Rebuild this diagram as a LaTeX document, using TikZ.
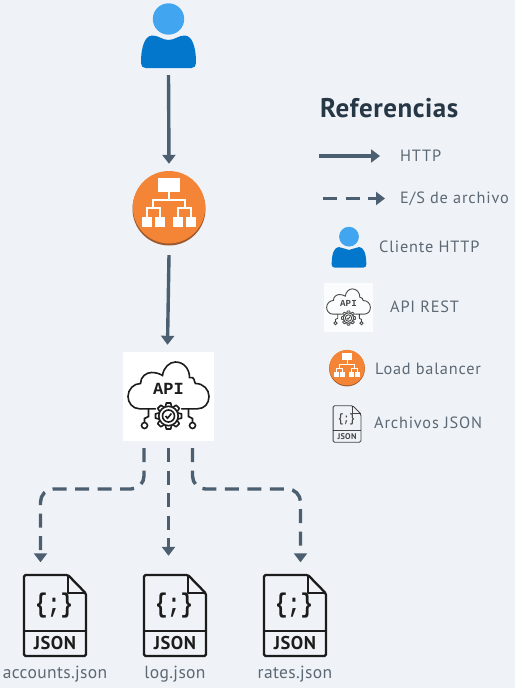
\documentclass[tikz,border=0pt]{standalone}
\usepackage{fontspec}
\setmainfont{PT Sans}
\newfontfamily\codefont{Liberation Mono}
\usetikzlibrary{arrows.meta,positioning}
\definecolor{bgcol}{HTML}{EFF3F7}
\definecolor{linecol}{HTML}{4B5F70}
\definecolor{textcol}{HTML}{5C6873}
\definecolor{titlecol}{HTML}{263746}
\definecolor{headcol}{HTML}{42A5F0}
\definecolor{bodycol}{HTML}{0277CC}
\definecolor{lbcol}{HTML}{F58536}
\definecolor{lbdark}{HTML}{9C5A2E}
\definecolor{iconcol}{HTML}{1C1C1C}
\tikzset{
  box/.style={inner sep=0pt,minimum width=#1,minimum height=#1},
  httparrow/.style={draw=linecol,line width=3.4pt,-{Triangle[width=13pt,length=9pt]}},
  filearrow/.style={draw=linecol,line width=3.4pt,dash pattern=on 14pt off 8.5pt,-{Triangle[width=13pt,length=9pt]}},
  filelabel/.style={inner sep=0pt,text=textcol,font=\fontsize{17.5}{19}\selectfont\addfontfeatures{LetterSpace=2}},
  reflabel/.style={anchor=west,inner sep=0pt,text=textcol,font=\fontsize{16.3}{18}\selectfont\addfontfeatures{LetterSpace=5}},
  pics/usericon/.style={code={
    \fill[headcol] (0,-18) circle(15.7);
    \fill[bodycol] (-23,31) .. controls (-26,31) and (-27.5,29) .. (-27.5,26)
      .. controls (-27.5,8) and (-23,-1.5) .. (-16,-1.5)
      .. controls (-10,-1.5) and (-6,3) .. (0,3)
      .. controls (6,3) and (10,-1.5) .. (16,-1.5)
      .. controls (23,-1.5) and (27.5,8) .. (27.5,26)
      .. controls (27.5,29) and (26,31) .. (23,31) -- cycle;
  }},
  pics/lbicon/.style={code={
    \fill[lbdark] (0,1) circle(36.5);
    \fill[lbcol] (0,-0.8) circle(36.2);
    \fill[white] (-11,-30) rectangle (11,-16);
    \draw[white] (0,-16) -- (0,-8) (-16,0) |- (16,0 |- 0,-8) -- (16,0);
    \draw[white] (-22,9) |- (-9,0) -- (-9,9) (9,9) -- (9,0) -| (22,9);
    \foreach \x in {-22,-9,9,22}
      \fill[white] (\x-5.3,8.5) rectangle (\x+5.3,19);
  }},
  pics/apiicon/.style={code={
    \fill[white] (-45.5,-44.5) rectangle (45.5,44.5);
    \draw[iconcol,line cap=round] (-13,12.3) -- (-29,12.3)
      .. controls (-36,12.3) and (-40.5,6) .. (-40.5,0)
      .. controls (-40.5,-7) and (-35,-13) .. (-28,-13)
      .. controls (-28,-20) and (-22,-24) .. (-17,-24)
      .. controls (-13,-24) and (-9,-23) .. (-6,-21)
      .. controls (-5,-29) and (1,-34.5) .. (7,-34.5)
      .. controls (15,-34.5) and (21,-28) .. (21,-19)
      .. controls (27,-20) and (25,-15) .. (27,-13)
      .. controls (35,-13) and (40.5,-7) .. (40.5,0)
      .. controls (40.5,7) and (36,12.3) .. (29,12.3) -- (13,12.3);
    \node[transform shape,text=iconcol,inner sep=0pt,font=\codefont\bfseries\fontsize{17}{17}\selectfont] at (0,-7.5) {API};
    \foreach \a in {0,45,...,315}
      \draw[iconcol,fill=white,rotate around={\a:(0,19.5)},line join=round] (-3,10) -- (-2.2,6.5) -- (2.2,6.5) -- (3,10);
    \draw[iconcol,fill=white] (0,19.5) circle(9.7);
    \draw[iconcol] (0,19.5) circle(6);
    \draw[iconcol] (-3,19.5) -- (-1,21.7) -- (3,17);
    \draw[iconcol] (-20,12.3) -- (-20,20) -- (-24,22) -- (-24,26);
    \draw[iconcol] (20,12.3) -- (20,20) -- (24,22) -- (24,26);
    \draw[iconcol] (-24,29) circle(3) (24,29) circle(3);
  }},
  pics/jsonicon/.style={code={
    \draw[iconcol,rounded corners=1.5] (13,-40.5) -- (-31,-40.5) -- (-31,40.5) -- (31,40.5) -- (31,-22) -- cycle;
    \draw[iconcol,line join=round] (13,-40.5) -- (13,-22.5) -- (31,-22.5);
    \draw[iconcol] (-31,15.2) -- (31,15.2);
    \node[transform shape,xscale=.78,text=iconcol,inner sep=0pt,font=\codefont\bfseries\fontsize{27}{27}\selectfont] at (-1,-9.5) {\{;\}};
    \node[transform shape,text=iconcol,inner sep=0pt,font=\bfseries\fontsize{18.5}{18}\selectfont\addfontfeatures{LetterSpace=3}] at (0,27.5) {JSON};
  }},
  bigicon/.style={line width=1.6pt},
  bigjson/.style={line width=2.3pt},
  smallicon/.style={scale=#1,line width=.9pt,opacity=.8}
}
\begin{document}
\begin{tikzpicture}[x=1pt,y=-1pt]
  \useasboundingbox (0,0) rectangle (515,688);
  \fill[bgcol] (0,0) rectangle (515,688);

  % diagrama
  \node[box=62pt] (user) at (168.5,37) {};
  \node[box=74pt] (lb) at (169,208) {};
  \node[box=89pt,minimum width=91pt] (api) at (168.5,396.5) {};
  \node[box=81pt,minimum width=62pt] (accounts) at (55,615.5) {};
  \node[box=81pt,minimum width=62pt] (log) at (175,615.5) {};
  \node[box=81pt,minimum width=62pt] (rates) at (295,615.5) {};
  \pic at (user) {usericon};
  \pic[bigicon] at (lb) {lbicon};
  \pic[bigicon] at (api) {apiicon};
  \pic[bigjson] at (accounts) {jsonicon};
  \pic[bigjson] at (log) {jsonicon};
  \pic[bigjson] at (rates) {jsonicon};
  \node[filelabel,below=10pt of accounts] (accountstxt) {accounts.json};
  \node[filelabel,below=10pt of log] (logtxt) {log.json};
  \node[filelabel,below=10pt of rates] (ratestxt) {rates.json};

  \draw[httparrow] ([yshift=-7pt]user.south) -- ([yshift=7pt]lb.north);
  \draw[httparrow] ([yshift=-10pt]lb.south) -- ([xshift=-1pt,yshift=7pt]api.north);

  \coordinate (busleft) at (144,489);
  \coordinate (busright) at (192.5,489);
  \draw[filearrow,rounded corners=13pt] ([xshift=-24.5pt,yshift=-7pt]api.south) -- (busleft) -| ([xshift=-14.5pt,yshift=12.5pt]accounts.north);
  \draw[filearrow] ([yshift=-7pt]api.south) -- ([xshift=-6.5pt,yshift=19pt]log.north);
  \draw[filearrow,rounded corners=13pt] ([xshift=24pt,yshift=-7pt]api.south) -- (busright) -| ([xshift=5.5pt,yshift=12.5pt]rates.north);

  % referencias
  \node[anchor=west,inner sep=0pt,text=titlecol,font=\bfseries\fontsize{27}{28}\selectfont\addfontfeatures{LetterSpace=2}] (title) at (320,108) {Referencias};

  \coordinate (httpa) at (319,156);
  \coordinate (httpb) at (380,156);
  \draw[httparrow] (httpa) -- (httpb);
  \node[reflabel] (httptxt) at (400,156) {HTTP};

  \coordinate (filea) at (323,198.5);
  \coordinate (fileb) at (385,198.5);
  \draw[filearrow] (filea) -- (fileb);
  \node[reflabel] (filetxt) at (400,199) {E/S de archivo};

  \pic[scale=.63] (refuser) at (349,248) {usericon};
  \node[reflabel] (usertxt) at (379,247) {Cliente HTTP};

  \pic[smallicon=.54] (refapi) at (348.5,307.5) {apiicon};
  \node[reflabel] (apitxt) at (390,307) {API REST};

  \pic[scale=.49,line width=.9pt] (reflb) at (347,368) {lbicon};
  \node[reflabel] (lbtxt) at (375,369) {Load balancer};

  \pic[smallicon=.45] (refjson) at (347,424) {jsonicon};
  \node[reflabel] (jsontxt) at (374,423) {Archivos JSON};
\end{tikzpicture}
\end{document}
